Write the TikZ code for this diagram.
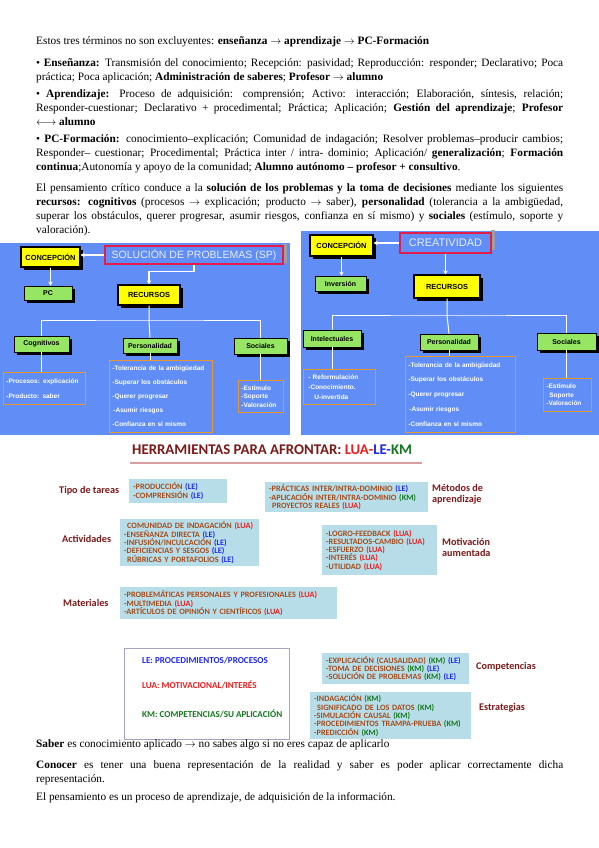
\documentclass[tikz,border=0pt]{standalone}
\usepackage{fontspec}
\setmainfont{Liberation Serif}
\newfontfamily\arialfont{Liberation Sans}
\newfontfamily\califont{Carlito}
\usepackage{tikz}
\usetikzlibrary{arrows.meta,positioning,calc,shadows}
\definecolor{panelblue}  {RGB}{96,142,246}
\definecolor{boxyellow}  {RGB}{255,255,0}
\definecolor{boxgreen}   {RGB}{150,230,100}
\definecolor{borderred}  {RGB}{228,28,72}
\definecolor{boxorange}  {RGB}{232,150,50}
\definecolor{titlewhite} {RGB}{232,236,246}
\definecolor{lightcyan}  {RGB}{183,222,232}
\definecolor{itembrown}  {RGB}{165,75,28}
\definecolor{labelred}   {RGB}{125,25,25}
\definecolor{luared}     {RGB}{235,30,30}
\definecolor{leblue}     {RGB}{30,40,235}
\definecolor{kmgreen}    {RGB}{20,120,30}
\definecolor{legborder}  {RGB}{170,160,200}
\definecolor{rulepink}   {RGB}{215,160,160}
\newcommand{\tlua}{\textcolor{luared}{(LUA)}}
\newcommand{\tle}{\textcolor{leblue}{(LE)}}
\newcommand{\tkm}{\textcolor{kmgreen}{(KM)}}

\begin{document}
\begin{tikzpicture}[x=1pt,y=-1pt,
  para/.style={anchor=north west,inner sep=0pt,text width=527pt,align=justify,
               font=\fontsize{11.3}{14}\selectfont,execute at begin node={\noindent\strut}},
  ybox/.style={draw=black,line width=1.2pt,fill=boxyellow,inner sep=0pt,
               font=\arialfont\bfseries\fontsize{7.4}{8}\selectfont,
               drop shadow={shadow xshift=3pt,shadow yshift=-3pt,opacity=1,fill=black}},
  gbox/.style={draw=black,line width=0.6pt,fill=boxgreen,inner sep=0pt,
               font=\arialfont\bfseries\fontsize{7}{8}\selectfont,
               drop shadow={shadow xshift=2.5pt,shadow yshift=-2.5pt,opacity=1,fill=black}},
  tbox/.style={draw=borderred,line width=1.3pt,inner sep=0pt,text=titlewhite},
  obox/.style={draw=boxorange,line width=0.8pt,anchor=north west,align=left,
               inner xsep=3pt,inner ysep=0pt,text=white},
  wline/.style={white,line width=1pt},
  warr/.style={white,line width=1.2pt,-{Stealth[length=4pt,width=4.5pt]}},
  ibox/.style={fill=lightcyan,anchor=north west,align=left,inner xsep=4pt,inner ysep=0pt,
               text=itembrown,font=\califont\bfseries\fontsize{8.2}{8.3}\selectfont},
  hlabel/.style={anchor=west,align=left,inner sep=0pt,text=labelred,
                 font=\califont\bfseries\fontsize{10.2}{11}\selectfont},
  legtxt/.style={anchor=west,inner sep=0pt,font=\califont\bfseries\fontsize{9.1}{10}\selectfont},
]
\fill[white] (0,0) rectangle (599,848);
\useasboundingbox (0,0) rectangle (599,848);

%% ── Opening text ─────────────────────────────────────────────────────────
\node[para] (ptres) at (36,34.2)
  {Estos tres términos no son excluyentes: \textbf{enseñanza $\rightarrow$ aprendizaje $\rightarrow$ PC-Formación}};
\node[para] (pens) at (36,56.2)
  {• \textbf{Enseñanza:} Transmisión del conocimiento; Recepción: pasividad; Reproducción: responder; Declarativo; Poca\linebreak
   práctica; Poca aplicación; \textbf{Administración de saberes}; \textbf{Profesor $\rightarrow$ alumno}};
\node[para] (papr) at (36,87.2)
  {• \textbf{Aprendizaje:} Proceso de adquisición: comprensión; Activo: interacción; Elaboración, síntesis, relación;\linebreak
   Responder-cuestionar; Declarativo + procedimental; Práctica; Aplicación; \textbf{Gestión del aprendizaje}; \textbf{Profesor}\linebreak
   \textbf{$\longleftrightarrow$ alumno}};
\node[para] (ppcf) at (36,132.2)
  {• \textbf{PC-Formación:} conocimiento–explicación; Comunidad de indagación; Resolver problemas–producir cambios;\linebreak
   Responder– cuestionar; Procedimental; Práctica inter / intra- dominio; Aplicación/ \textbf{generalización}; \textbf{Formación}\linebreak
   \textbf{continua};Autonomía y apoyo de la comunidad; \textbf{Alumno autónomo – profesor + consultivo}.};
\node[para] (pcrit) at (36,181.2)
  {El pensamiento crítico conduce a la \textbf{solución de los problemas y la toma de decisiones} mediante los siguientes\linebreak
   \textbf{recursos: cognitivos} (procesos $\rightarrow$ explicación; producto $\rightarrow$ saber), \textbf{personalidad} (tolerancia a la ambigüedad,\linebreak
   superar los obstáculos, querer progresar, asumir riesgos, confianza en sí mismo) y \textbf{sociales} (estímulo, soporte y\linebreak
   valoración).};

%% ── Left panel: solución de problemas ────────────────────────────────────
\fill[panelblue] (0,243) rectangle (290,435);
\fill[gray!75] (283,244) rectangle (287,263);
\node[tbox,minimum width=178pt,minimum height=18pt,
      font=\arialfont\fontsize{10.5}{12}\selectfont] (lsp) at (194,255) {SOLUCIÓN DE PROBLEMAS (SP)};
\node[ybox,minimum width=59pt,minimum height=20pt] (lcon) at (50.5,257) {CONCEPCIÓN};
\node[gbox,minimum width=48pt,minimum height=14pt] (lpc) at (48,293) {PC};
\node[ybox,minimum width=62pt,minimum height=20pt] (lrec) at (149,295) {RECURSOS};
\node[gbox,minimum width=55pt,minimum height=16pt] (lcog) at (41.5,344) {Cognitivos};
\node[gbox,minimum width=54pt,minimum height=15pt] (lper) at (150,345.5) {Personalidad};
\node[gbox,minimum width=53pt,minimum height=16pt] (lsoc) at (260.5,346) {Sociales};
\coordinate (ljn) at (149,320);

\node[obox,text width=76pt,minimum height=32pt,
      font=\arialfont\bfseries\fontsize{6.5}{15}\selectfont] (lcogb) at (3,372)
  {-Procesos: explicación\\-Producto: saber};
\node[obox,text width=97pt,minimum height=72pt,
      font=\arialfont\bfseries\fontsize{6.5}{14}\selectfont] (lperb) at (109,360)
  {-Tolerancia de la ambigüedad\\-Superar los obstáculos\\-Querer progresar\\\hspace{1pt}-Asumir riesgos\\-Confianza en sí mismo};
\node[obox,text width=39pt,minimum height=32pt,
      font=\arialfont\bfseries\fontsize{6.5}{8.3}\selectfont] (lsocb) at (238,380)
  {-Estímulo\\-Soporte\\-Valoración};

\draw[warr] (lsp.west) -- (lsp.west -| lcon.east);
\draw[warr] (lcon.south) -- (lcon.south |- lpc.north);
\draw[warr] (lsp.south) -- ++(0,7) -| (lrec.north);
\draw[wline] (lrec.south) -- (ljn) -- (lper.north);
\draw[wline] (lcog.north) |- (ljn) -| (lsoc.north);
\draw[wline] (lcog.south) -- (lcog.south |- lcogb.north);
\draw[wline] (lper.south) -- (lper.south |- lperb.north);
\draw[wline] (lsoc.south) -- (lsoc.south |- lsocb.north);

%% ── Right panel: creatividad ─────────────────────────────────────────────
\fill[panelblue] (301,231) rectangle (599,435);
\fill[gray!75] (491,230) rectangle (495,250);
\node[tbox,minimum width=91pt,minimum height=20pt,
      font=\arialfont\fontsize{11}{12}\selectfont] (rcre) at (445.5,243) {CREATIVIDAD};
\node[ybox,minimum width=63pt,minimum height=21pt] (rcon) at (341.5,245.5) {CONCEPCIÓN};
\node[gbox,minimum width=51pt,minimum height=15pt] (rinv) at (340.5,283.5) {Inversión};
\node[ybox,minimum width=66pt,minimum height=23pt] (rrec) at (447,286.5) {RECURSOS};
\node[gbox,minimum width=58pt,minimum height=17pt] (rint) at (332,338.5) {Intelectuales};
\node[gbox,minimum width=58pt,minimum height=16pt] (rper) at (449,342) {Personalidad};
\node[gbox,minimum width=59pt,minimum height=17pt] (rsoc) at (566.5,341.5) {Sociales};
\coordinate (rjn) at (447,315);

\node[obox,text width=66pt,minimum height=35pt,
      font=\arialfont\bfseries\fontsize{6.5}{10}\selectfont] (rintb) at (303,369)
  {\hspace{2pt}- Reformulación\\\hspace{2pt}-Conocimiento.\\\hspace{8pt}U-invertida};
\node[obox,text width=104pt,minimum height=76pt,
      font=\arialfont\bfseries\fontsize{6.5}{14.8}\selectfont] (rperb) at (405,356)
  {-Tolerancia de la ambigüedad\\-Superar los obstáculos\\-Querer progresar\\\hspace{1pt}-Asumir riesgos\\-Confianza en sí mismo};
\node[obox,text width=42pt,minimum height=33pt,
      font=\arialfont\bfseries\fontsize{6.5}{8.5}\selectfont] (rsocb) at (543,378)
  {-Estímulo\\\hspace{3pt}Soporte\\-Valoración};

\draw[warr] (rcre.west) -- (rcre.west -| rcon.east);
\draw[warr] (rcon.south) -- (rcon.south |- rinv.north);
\draw[warr] (rcre.south) -- (rcre.south |- rrec.north);
\draw[wline] (rrec.south) -- (rjn) -- (rper.north);
\draw[wline] (rint.north) |- (rjn) -| (rsoc.north);
\draw[wline] (rint.south) -- (rint.south |- rintb.north);
\draw[wline] (rper.south) -- (rper.south |- rperb.north);
\draw[wline] (rsoc.south) -- (rsoc.south |- rsocb.north);

%% ── Herramientas: LUA-LE-KM ──────────────────────────────────────────────
\node[anchor=west,inner sep=0pt,text=labelred,font=\califont\bfseries\fontsize{14.8}{16}\selectfont] (htit)
  at (132,450) {HERRAMIENTAS PARA AFRONTAR: \textcolor{luared}{LUA-}\textcolor{leblue}{LE-}\textcolor{kmgreen}{KM}};
\draw[rulepink,line width=1.2pt] (130,463) -- (422,463);

\node[hlabel] (ltipo) at (59,491) {Tipo de tareas};
\node[hlabel] (lact)  at (62,539) {Actividades};
\node[hlabel] (lmat)  at (63,603) {Materiales};
\node[hlabel] (lmet)  at (432,494.5) {Métodos de\\aprendizaje};
\node[hlabel] (lmot)  at (442,547) {Motivación\\aumentada};
\node[hlabel] (lcomp) at (476,667) {Competencias};
\node[hlabel] (lestr) at (479,708) {Estrategias};

\node[ibox,text width=90pt,minimum height=24pt] (btipa) at (129,479)
  {-PRODUCCIÓN \tle\\-COMPRENSIÓN \tle};
\node[ibox,text width=155pt,minimum height=30pt] (btipb) at (265,482)
  {-PRÁCTICAS INTER/INTRA-DOMINIO \tle\\-APLICACIÓN INTER/INTRA-DOMINIO \tkm\\\hspace{3pt}PROYECTOS REALES \tlua};
\node[ibox,text width=131pt,minimum height=47pt] (bacta) at (120,519)
  {\hspace{3pt}COMUNIDAD DE INDAGACIÓN \tlua\\-ENSEÑANZA DIRECTA \tle\\-INFUSIÓN/INCULCACIÓN \tle\\-DEFICIENCIAS Y SESGOS \tle\\\hspace{3pt}RÚBRICAS Y PORTAFOLIOS \tle};
\node[ibox,text width=107pt,minimum height=50pt] (bactb) at (322,525)
  {-LOGRO-FEEDBACK \tlua\\-RESULTADOS-CAMBIO \tlua\\-ESFUERZO \tlua\\-INTERÉS \tlua\\-UTILIDAD \tlua};
\node[ibox,text width=209pt,minimum height=32pt] (bmat) at (120,587)
  {-PROBLEMÁTICAS PERSONALES Y PROFESIONALES \tlua\\-MULTIMEDIA \tlua\\-ARTÍCULOS DE OPINIÓN Y CIENTÍFICOS \tlua};

%% legend box
\node[draw=legborder,line width=0.8pt,fill=white,anchor=north west,
      minimum width=165pt,minimum height=91pt] (leg) at (124,648) {};
\node[legtxt,text=leblue]  (legle)  at (142,661) {LE: PROCEDIMIENTOS/PROCESOS};
\node[legtxt,text=luared]  (leglua) at (142,685) {LUA: MOTIVACIONAL/INTERÉS};
\node[legtxt,text=kmgreen] (legkm)  at (142,714) {KM: COMPETENCIAS/SU APLICACIÓN};

\node[ibox,text width=139pt,minimum height=31pt] (bcomp) at (322,653)
  {-EXPLICACIÓN (CAUSALIDAD) \tkm{} \tle\\-TOMA DE DECISIONES \tkm{} \tle\\-SOLUCIÓN DE PROBLEMAS \tkm{} \tle};
\node[ibox,text width=153pt,minimum height=47pt] (bestr) at (310,692)
  {-INDAGACIÓN \tkm\\\hspace{3pt}SIGNIFICADO DE LOS DATOS \tkm\\-SIMULACIÓN CAUSAL \tkm\\-PROCEDIMIENTOS TRAMPA-PRUEBA \tkm\\-PREDICCIÓN \tkm};

%% ── Closing text ─────────────────────────────────────────────────────────
\node[para] (psab) at (36,737.2)
  {\textbf{Saber} es conocimiento aplicado $\rightarrow$ no sabes algo si no eres capaz de aplicarlo};
\node[para] (pcon) at (36,758.2)
  {\textbf{Conocer} es tener una buena representación de la realidad y saber es poder aplicar correctamente dicha\linebreak
   representación.};
\node[para] (ppen) at (36,790.2)
  {El pensamiento es un proceso de aprendizaje, de adquisición de la información.};

\end{tikzpicture}
\end{document}
